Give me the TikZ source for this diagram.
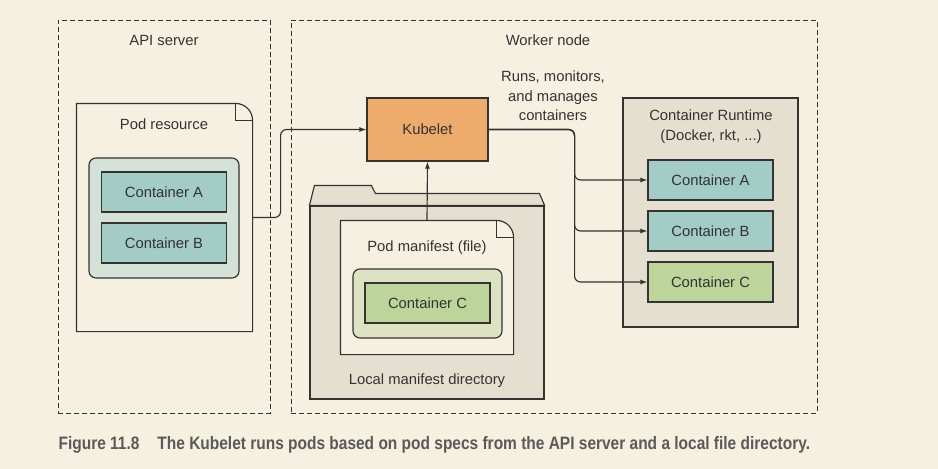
\documentclass[tikz,border=0pt]{standalone}
\usepackage{fontspec}
\setmainfont{Liberation Sans}
\newfontfamily\captionfont[FakeStretch=0.86]{Liberation Sans}
\usetikzlibrary{arrows.meta}

\definecolor{paper}{HTML}{F5F0DF}
\definecolor{ink}{HTML}{333333}
\definecolor{podgray}{HTML}{D3E1D6}
\definecolor{teal}{HTML}{A2CCC5}
\definecolor{kubeorange}{HTML}{EDAB6C}
\definecolor{folder}{HTML}{E4DFCE}
\definecolor{podgreen}{HTML}{DDE3C2}
\definecolor{ctrgreen}{HTML}{BDD49A}
\definecolor{capgray}{HTML}{5A5A5A}

\begin{document}
\begin{tikzpicture}[x=1pt, y=-1pt, line width=1.15pt, color=ink,
    font=\fontsize{14.8}{17}\selectfont,
    >={Latex[length=7pt,width=5pt]},
    zone/.style={draw, dash pattern=on 5pt off 3pt, line width=1pt, minimum width=#1, minimum height=393pt, inner sep=0pt},
    ctr/.style={draw, inner sep=0pt, minimum width=125pt, minimum height=40pt},
    pod/.style={draw, rounded corners=7pt, inner sep=0pt}]
  \useasboundingbox[fill=paper] (0,0) rectangle (938,469);

  % zones
  \node[zone=212pt] (api) at (164,216.5) {};
  \node[zone=526pt] (worker) at (554,216.5) {};
  \node (apititle) at (164,40) {API server};
  \node (workertitle) at (548,40) {Worker node};

  % pod resource on the API server
  \node[minimum width=175pt, minimum height=227pt, inner sep=0pt] (podres) at (164.5,217.5) {};
  \draw[fill=paper] (podres.north west) -- ([xshift=-17pt]podres.north east) to[out=0,in=90] ([yshift=-17pt]podres.north east) -- (podres.south east) -- (podres.south west) -- cycle;
  \draw ([xshift=-17pt]podres.north east) |- ([yshift=-17pt]podres.north east);
  \node (podreslabel) at (164,124) {Pod resource};
  \node[pod, fill=podgray, minimum width=150pt, minimum height=120pt] (pod1) at (164,218) {};
  \node[ctr, fill=teal] (ctra1) at (164,192) {Container A};
  \node[ctr, fill=teal] (ctrb1) at (164,243) {Container B};

  % kubelet
  \node[draw, fill=kubeorange, minimum width=121pt, minimum height=63pt, inner sep=0pt] (kubelet) at (427.5,129.5) {Kubelet};
  \node[align=center, font=\fontsize{14.8}{19.5}\selectfont] (runs) at (553,96) {Runs, monitors,\\and manages\\containers};

  % local manifest directory
  \node[draw, fill=folder, minimum width=234pt, minimum height=193pt, inner sep=0pt] (mdir) at (427,302.5) {};
  \draw[fill=folder] (mdir.north west) -- ++(5,-20) -- ++(57,0) -- ++(4,8) -- ++(164,0) -- (mdir.north east) -- cycle;
  \node (mdirlabel) at (427,381) {Local manifest directory};

  % pod manifest file
  \node[minimum width=172pt, minimum height=133pt, inner sep=0pt] (manifest) at (427,287.5) {};
  \draw[fill=paper] (manifest.north west) -- ([xshift=-17pt]manifest.north east) to[out=0,in=90] ([yshift=-17pt]manifest.north east) -- (manifest.south east) -- (manifest.south west) -- cycle;
  \draw ([xshift=-17pt]manifest.north east) |- ([yshift=-17pt]manifest.north east);
  \node (manifestlabel) at (427,248) {Pod manifest (file)};
  \node[pod, fill=podgreen, minimum width=149pt, minimum height=69pt] (pod2) at (427.5,303.5) {};
  \node[ctr, fill=ctrgreen] (ctrc1) at (427.5,303) {Container C};

  % container runtime
  \node[draw, fill=folder, minimum width=175pt, minimum height=229pt, inner sep=0pt] (runtime) at (710.5,212.5) {};
  \node[align=center, font=\fontsize{14.8}{20}\selectfont] (runtimelabel) at (711,127) {Container Runtime\\(Docker, rkt, ...)};
  \node[ctr, fill=teal] (ctra2) at (710.5,180) {Container A};
  \node[ctr, fill=teal] (ctrb2) at (710.5,231) {Container B};
  \node[ctr, fill=ctrgreen] (ctrc2) at (710.5,282) {Container C};

  % connectors
  \draw[->, rounded corners=6pt] (podres.east) -- ++(28,0) |- (kubelet.west);
  \draw[->] (manifest.north) -- (kubelet.south);
  \foreach \c in {ctra2,ctrb2,ctrc2}
    \draw[->, rounded corners=6pt] (kubelet.east) -- ++(86,0) |- (\c.west);

  % caption
  \node[anchor=west, inner sep=0pt, text=capgray, font=\captionfont\bfseries\fontsize{18}{21}\selectfont] (caption) at (58,445) {Figure 11.8\hspace{1em}The Kubelet runs pods based on pod specs from the API server and a local file directory.};
\end{tikzpicture}
\end{document}
